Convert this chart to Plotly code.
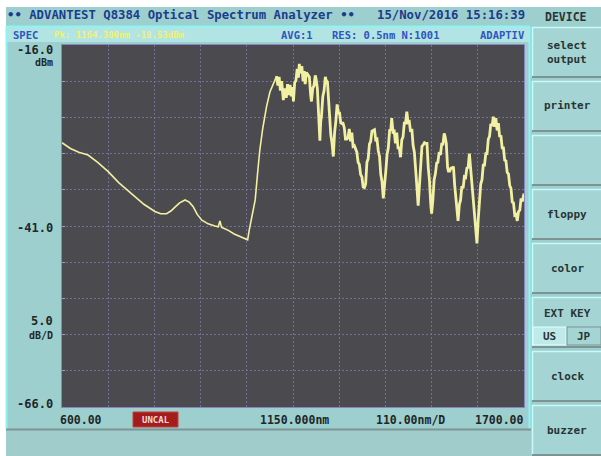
import plotly.graph_objects as go

# ---------------- data ----------------
WAVELENGTH_NM = [
    600, 620, 640, 662, 685, 710, 735, 766, 795, 821, 835, 849, 860, 869, 880, 893, 903, 912, 922, 933,
    948, 964, 972, 976, 978, 980, 985, 996, 1010, 1025, 1042,
    1046, 1052, 1060, 1066, 1071, 1078, 1087, 1095, 1103, 1108, 1111,
    1114, 1117, 1120, 1123, 1127, 1130, 1134, 1137, 1140, 1143, 1146, 1149, 1151, 1154, 1157, 1160, 1163,
    1165, 1168, 1171, 1174, 1177, 1179, 1182, 1186, 1189, 1192, 1194, 1197, 1200, 1203, 1205, 1208, 1211,
    1214, 1216, 1218, 1221, 1224, 1227, 1229, 1232, 1234, 1237, 1240, 1243, 1246, 1249, 1252, 1255, 1258,
    1261, 1264, 1266, 1269, 1272, 1275, 1278, 1281, 1284, 1287, 1290, 1293, 1296, 1299, 1302, 1305, 1308,
    1311, 1314, 1317, 1320, 1323, 1326, 1329, 1332, 1335, 1338, 1341, 1344, 1347, 1350, 1353, 1356, 1359,
    1362, 1365, 1368, 1371, 1374, 1377, 1380, 1383, 1385, 1388, 1391, 1394, 1397, 1400, 1403, 1406, 1409,
    1412, 1415, 1418, 1421, 1424, 1427, 1430, 1433, 1436, 1439, 1442, 1445, 1448, 1451, 1454, 1457, 1460,
    1463, 1466, 1469, 1472, 1475, 1478, 1480, 1483, 1486, 1489, 1492, 1495, 1498, 1501, 1504, 1507, 1510,
    1512, 1515, 1518, 1520, 1523, 1526, 1529, 1532, 1535, 1538, 1541, 1543, 1546, 1549, 1552, 1555, 1558,
    1561, 1564, 1567, 1570, 1573, 1576, 1579, 1582, 1585, 1588, 1591, 1594, 1597, 1600, 1603, 1606, 1609,
    1612, 1615, 1618, 1621, 1624, 1627, 1630, 1633, 1636, 1639, 1642, 1645, 1648, 1651, 1654, 1657, 1660,
    1663, 1666, 1669, 1672, 1675, 1678, 1681, 1684, 1687, 1690, 1693, 1696, 1700,
]
POWER_DBM = [
    -29.5, -30.3, -30.8, -31.2, -32.2, -33.5, -35.0, -36.6, -38.0, -39.0, -39.3, -39.3, -38.9, -38.4, -37.8,
    -37.4, -37.7, -38.3, -39.4, -40.2, -40.7, -41.0, -41.1, -40.3, -41.0, -41.2, -41.3, -41.6, -42.1, -42.5,
    -42.9,
    -41.5, -39.5, -37.4, -33.5, -30.5, -27.5, -24.5, -22.5, -21.3, -20.6, -20.3,
    -21.6, -20.4, -22.3, -21.0, -23.6, -22.0, -23.3, -21.4, -22.9, -21.5, -23.1, -21.8, -23.8, -21.2, -20.9,
    -19.3, -20.5, -18.6, -19.9, -18.9, -21.0, -19.6, -21.4, -19.8, -20.1, -20.4, -22.9, -23.8, -22.0, -21.6,
    -20.2, -20.7, -22.0, -25.9, -29.2, -26.6, -25.7, -23.1, -22.3, -20.4, -20.9, -21.1, -23.3, -25.1, -28.4,
    -29.6, -31.4, -28.1, -26.6, -24.2, -25.4, -25.4, -26.9, -26.8, -26.8, -27.4, -29.0, -29.0, -28.8, -27.6,
    -29.3, -28.1, -30.0, -29.9, -30.3, -30.8, -32.2, -32.5, -33.9, -34.2, -35.6, -35.7, -35.2, -32.2, -31.7,
    -29.7, -29.3, -27.9, -27.8, -27.7, -29.1, -29.0, -30.6, -31.4, -33.9, -34.9, -37.2, -34.6, -33.4, -31.1,
    -30.2, -27.8, -27.7, -26.1, -28.0, -27.9, -29.6, -28.1, -30.2, -30.2, -31.5, -29.1, -28.7, -26.8, -26.8,
    -25.2, -26.7, -26.6, -28.0, -27.6, -29.9, -30.8, -34.0, -35.6, -38.2, -35.1, -33.0, -30.0, -29.8, -29.5,
    -29.6, -29.6, -32.9, -34.8, -38.0, -39.3, -37.4, -34.6, -33.8, -32.3, -32.2, -30.8, -31.2, -29.7, -29.7,
    -28.2, -28.6, -29.6, -32.9, -33.4, -33.4, -33.0, -33.0, -32.8, -35.4, -37.0, -39.4, -40.3, -38.1, -37.4,
    -35.5, -35.8, -34.2, -34.3, -33.0, -32.9, -31.0, -33.2, -35.0, -37.9, -39.2, -41.9, -43.4, -40.1, -38.0,
    -35.2, -34.6, -32.6, -32.6, -31.0, -31.0, -29.0, -28.6, -26.9, -27.2, -25.9, -27.3, -26.1, -27.8, -26.8,
    -28.7, -28.5, -30.2, -30.2, -31.9, -32.0, -33.6, -33.8, -35.4, -35.8, -37.7, -37.8, -39.5, -39.4, -40.3,
    -39.0, -38.8, -37.2, -37.6, -36.5,
]

X_START, X_STOP, X_DIV = 600, 1700, 110
Y_TOP, Y_BOTTOM, Y_DIV = -16, -66, 5

Y_LABELS = ["-16.0", "-41.0", "-66.0"]
X_LABELS = ["600.00", "1150.000nm", "110.00nm/D", "1700.00"]
BUTTONS = ["select<br>output", "printer", "", "floppy", "color", "", "clock", "buzzer"]

# ---------------- layout geometry (pixels) ----------------
W, H = 601, 456
L, R, T, B = 62, 524, 45, 407


def fx(p):
    return (p - L) / (R - L)


def fy(p):
    return (B - p) / (B - T)


TEAL = "#9ecfcf"
TEAL2 = "#a4d4d4"
LIGHT = "#b2e4e4"
CYAN = "#8cf4f4"
DARKLINE = "#7c9494"
PLOTBG = "#4b4a4f"
GRID = "#74709c"
TRACE = "#f2f0a2"
FONT = "DejaVu Sans Mono"

shapes = []


def rect(x0, y0, x1, y1, fill, line=None, width=0):
    shapes.append(dict(type="rect", xref="paper", yref="paper", layer="below",
                       x0=fx(x0), x1=fx(x1), y0=fy(y1), y1=fy(y0), fillcolor=fill,
                       line=dict(width=width, color=line or fill)))


def hline(x0, x1, y, color, width=1):
    shapes.append(dict(type="line", xref="paper", yref="paper", layer="below",
                       x0=fx(x0), x1=fx(x1), y0=fy(y), y1=fy(y), line=dict(color=color, width=width)))


def vline(x, y0, y1, color, width=1):
    shapes.append(dict(type="line", xref="paper", yref="paper", layer="below",
                       x0=fx(x), x1=fx(x), y0=fy(y0), y1=fy(y1), line=dict(color=color, width=width)))


# white margins
rect(0, 0, W, 7, "white")
rect(0, 0, 6, H, "white")
# second status row
rect(7, 27, 529, 42, LIGHT)
# panel borders
vline(6.5, 26, 429, CYAN, 2)
hline(6, 530, 26.5, CYAN, 2)
vline(529.5, 26, 429, CYAN, 2)
hline(6, 531, 429.5, DARKLINE, 2)
rect(7, 431, 531, H, "#a0cccc")
# plot background
rect(L, T, R, B, PLOTBG)

# right-hand soft keys
tops = [27, 81, 135, 189, 243, 297, 351, 405]
for t in tops:
    rect(532, t, W, t + 50, TEAL2)
    hline(532, W, t + 0.5, "#c8fafa", 1.5)
    vline(532.5, t, t + 50, "#c8fafa", 1.5)
    hline(532, W, t + 50, DARKLINE, 2)
# US / JP sub-keys
rect(533, 327, 566, 345, "#bfeaea", "#e4ffff", 1)
rect(567, 327, W, 345, TEAL2, DARKLINE, 1)
# UNCAL box
rect(133, 412, 178, 427, "#a51c1c", "#c04040", 1)

annotations = []


def text(s, x, y, color="#2a3434", size=12, anchor="left", weight="bold"):
    annotations.append(dict(text=s, x=fx(x), y=fy(y), xref="paper", yref="paper", showarrow=False,
                            xanchor=anchor, yanchor="middle",
                            font=dict(family=FONT, size=size, color=color, weight=weight)))


# header texts
text("•• ADVANTEST Q8384 Optical Spectrum Analyzer ••", 5, 15, "#1c3c8c", 12.3)
text("15/Nov/2016 15:16:39", 375, 15, "#1c3c8c", 12.3)
text("DEVICE", 566, 17, "#2a3434", 11.5, "center")
text("SPEC", 11, 35, "#2f55c0", 10.5)
text("Pk: 1164.300nm -18.53dBm", 52, 35, "#f4f070", 9)
text("AVG:1", 279, 35, "#2f55c0", 10.5)
text("RES: 0.5nm N:1001", 330, 35, "#2f55c0", 10.5)
text("ADAPTIV", 527, 35, "#2f55c0", 10.5, "right")

# y-axis annotations
text(Y_LABELS[0], 55, 50, "#1e2828", 12, "right")
text("dBm", 55, 63, "#1e2828", 10, "right")
text(Y_LABELS[1], 55, 228, "#1e2828", 12, "right")
text("5.0", 55, 321, "#1e2828", 12, "right")
text("dB/D", 55, 335, "#1e2828", 10, "right")
text(Y_LABELS[2], 55, 404, "#1e2828", 12, "right")

# x-axis annotations
text(X_LABELS[0], 58, 420, "#1e2828", 11.5)
text("UNCAL", 155.5, 419.5, "#f0d8d8", 9, "center")
text(X_LABELS[1], 294, 420, "#1e2828", 11.5, "center")
text(X_LABELS[2], 410, 420, "#1e2828", 11.5, "center")
text(X_LABELS[3], 526, 420, "#1e2828", 11.5, "right")

# soft key labels
for t, lab in zip(tops, BUTTONS):
    if lab:
        text(lab, 567, t + 25, "#2a3434", 11, "center")
text("EXT KEY", 567, 313, "#2a3434", 11, "center")
text("US", 549, 336, "#2a3434", 11, "center")
text("JP", 584, 336, "#2a3434", 11, "center")

# the broadband (noisy) part of the spectrum is drawn with a thicker pen
split = WAVELENGTH_NM.index(1111)

fig = go.Figure()
fig.add_trace(go.Scatter(x=WAVELENGTH_NM[:split + 1], y=POWER_DBM[:split + 1], mode="lines",
                         line=dict(color=TRACE, width=1.6), hoverinfo="skip"))
fig.add_trace(go.Scatter(x=WAVELENGTH_NM[split:], y=POWER_DBM[split:], mode="lines",
                         line=dict(color=TRACE, width=2.8), hoverinfo="skip"))

fig.update_layout(
    width=W, height=H, autosize=False,
    margin=dict(l=L, r=W - R, t=T, b=H - B, pad=0),
    paper_bgcolor=TEAL, plot_bgcolor="rgba(0,0,0,0)",
    showlegend=False, shapes=shapes, annotations=annotations,
    xaxis=dict(range=[X_START, X_STOP], dtick=X_DIV, tick0=X_START, showticklabels=False,
               showgrid=True, gridcolor=GRID, griddash="2px,2px", gridwidth=1, zeroline=False,
               showline=True, linecolor="#8a84c4", linewidth=1, mirror=True, ticks=""),
    yaxis=dict(range=[Y_BOTTOM, Y_TOP], dtick=Y_DIV, tick0=Y_BOTTOM, showticklabels=False,
               showgrid=True, gridcolor=GRID, griddash="2px,2px", gridwidth=1, zeroline=False,
               showline=True, linecolor="#8a84c4", linewidth=1, mirror=True,
               ticks="inside", ticklen=3, tickcolor="#a09ae0"),
)

fig.write_html("out.html")
